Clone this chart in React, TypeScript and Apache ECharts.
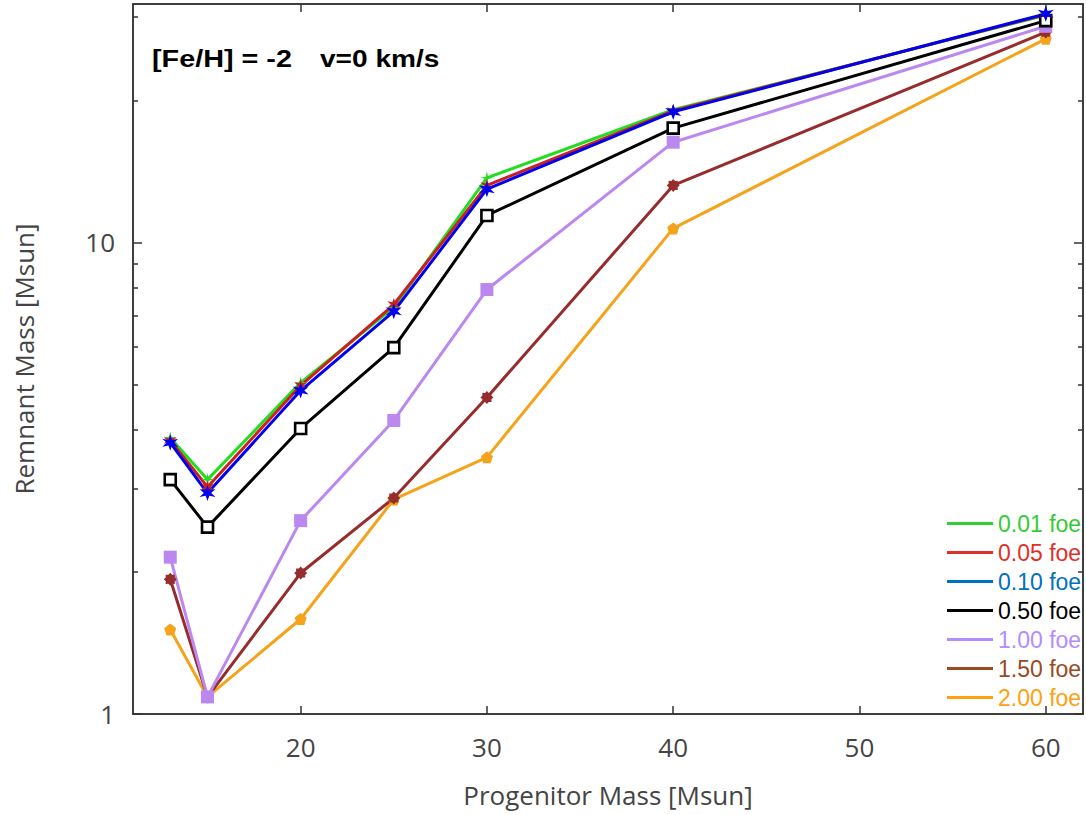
import React, { useEffect, useRef } from "react";
import * as echarts from "echarts";

const masses = [13, 15, 20, 25, 30, 40, 60];
const foe001 = [3.85, 3.14, 5.04, 7.28, 13.7, 19.1, 30.3];
const foe005 = [3.8, 3.03, 4.97, 7.38, 13.2, 19.0, 30.4];
const foe010 = [3.76, 2.94, 4.85, 7.14, 12.96, 18.9, 30.5];
const foe050 = [3.14, 2.49, 4.03, 5.98, 11.4, 17.46, 29.5];
const foe100 = [2.15, 1.087, 2.57, 4.19, 7.94, 16.3, 28.7];
const foe150 = [1.93, 1.087, 1.99, 2.87, 4.69, 13.2, 27.9];
const foe200 = [1.51, 1.087, 1.59, 2.85, 3.5, 10.7, 27.0];

const xTicks = [20, 30, 40, 50, 60];
const yMajorTicks = [1, 10];
const yMinorTicks = [2, 3, 4, 5, 6, 7, 8, 9, 20, 30];

const legendNames = ["0.01 foe", "0.05 foe", "0.10 foe", "0.50 foe", "1.00 foe", "1.50 foe", "2.00 foe"];
const legendColors = ["#33cc33", "#e0302a", "#0070c0", "#000000", "#b38cff", "#9a4a1c", "#ffa010"];

function starPath(n: number, ro: number, ri: number) {
  const pts: string[] = [];
  for (let i = 0; i < n * 2; i++) {
    const r = i % 2 === 0 ? ro : ri;
    const a = (Math.PI * i) / n - Math.PI / 2;
    pts.push((i === 0 ? "M" : "L") + (r * Math.cos(a)).toFixed(2) + "," + (r * Math.sin(a)).toFixed(2));
  }
  return "path://" + pts.join(" ") + " Z";
}

const asterisk = starPath(6, 10, 4);
const plusStar = starPath(4, 10, 2.5);
const star8 = starPath(8, 10, 7.5);
const pentagon = starPath(5, 10, 8.1);

const AX = "#333";

export default function App() {
  const ref = useRef<HTMLDivElement>(null);
  useEffect(() => {
    if (!ref.current) return;
    const chart = echarts.init(ref.current, undefined, { renderer: "svg" });
    const mk = (name: string, data: number[], color: string, symbol: string, size: number, extra: any = {}) => ({
      name,
      type: "line",
      data: masses.map((m, i) => [m, data[i]]),
      symbol,
      symbolSize: size,
      lineStyle: { color, width: 3 },
      itemStyle: { color, ...extra },
      xAxisIndex: 0,
      yAxisIndex: 0,
      z: 3,
    });
    const labelFont = { fontFamily: "Open Sans", fontSize: 26, color: "#444" };
    const option: any = {
      animation: false,
      backgroundColor: "#fff",
      grid: { left: 133, right: 3, top: 4, bottom: 101, show: true, borderColor: AX, borderWidth: 1.5, containLabel: false },
      graphic: [
        {
          type: "text",
          x: 152,
          y: 59,
          scaleX: 1.2,
          style: { text: "[Fe/H] = -2", fontFamily: "Liberation Sans", fontWeight: "bold", fontSize: 24, fill: "#000", verticalAlign: "middle", align: "left" },
        },
        {
          type: "text",
          x: 320,
          y: 59,
          scaleX: 1.17,
          style: { text: "v=0 km/s", fontFamily: "Liberation Sans", fontWeight: "bold", fontSize: 24, fill: "#000", verticalAlign: "middle", align: "left" },
        },
      ],
      legend: {
        orient: "vertical",
        left: 942,
        top: 507,
        itemWidth: 46,
        itemHeight: 3,
        itemGap: 6,
        icon: "rect",
        textStyle: { fontFamily: "Liberation Sans", fontSize: 23, lineHeight: 23, padding: [0, 0, 0, 0] },
        data: legendNames.map((n, i) => ({
          name: n,
          itemStyle: { color: legendColors[i], borderWidth: 0 },
          textStyle: { color: legendColors[i] },
        })),
      },
      xAxis: [
        {
          type: "value",
          min: 11,
          max: 62,
          position: "bottom",
          axisLine: { show: true, lineStyle: { color: AX, width: 1.5 } },
          axisTick: { show: true, inside: true, length: 8, customValues: xTicks, lineStyle: { color: AX, width: 1.5 } },
          axisLabel: { show: true, customValues: xTicks, margin: 20, ...labelFont },
          splitLine: { show: false },
          name: "Progenitor Mass [Msun]",
          nameLocation: "middle",
          nameGap: 68,
          nameTextStyle: labelFont,
        },
        {
          type: "value",
          min: 11,
          max: 62,
          position: "top",
          axisLine: { show: true, lineStyle: { color: AX, width: 1.5 } },
          axisTick: { show: true, inside: true, length: 8, customValues: xTicks, lineStyle: { color: AX, width: 1.5 } },
          axisLabel: { show: false },
          splitLine: { show: false },
        },
      ],
      yAxis: [
        {
          type: "log",
          logBase: 10,
          min: 1,
          max: 32,
          position: "left",
          axisLine: { show: true, lineStyle: { color: AX, width: 1.5 } },
          axisTick: { show: true, inside: true, length: 9, customValues: yMajorTicks, lineStyle: { color: AX, width: 1.5 } },
          axisLabel: { show: true, customValues: yMajorTicks, margin: 18, ...labelFont },
          splitLine: { show: false },
          name: "Remnant Mass [Msun]",
          nameLocation: "middle",
          nameGap: 96,
          nameTextStyle: labelFont,
        },
        {
          type: "log",
          logBase: 10,
          min: 1,
          max: 32,
          position: "left",
          axisLine: { show: false },
          axisTick: { show: true, inside: true, length: 5, customValues: yMinorTicks, lineStyle: { color: AX, width: 1.5 } },
          axisLabel: { show: false },
          splitLine: { show: false },
        },
        {
          type: "log",
          logBase: 10,
          min: 1,
          max: 32,
          position: "right",
          axisLine: { show: true, lineStyle: { color: AX, width: 1.5 } },
          axisTick: { show: true, inside: true, length: 9, customValues: yMajorTicks, lineStyle: { color: AX, width: 1.5 } },
          axisLabel: { show: false },
          splitLine: { show: false },
        },
        {
          type: "log",
          logBase: 10,
          min: 1,
          max: 32,
          position: "right",
          axisLine: { show: false },
          axisTick: { show: true, inside: true, length: 5, customValues: yMinorTicks, lineStyle: { color: AX, width: 1.5 } },
          axisLabel: { show: false },
          splitLine: { show: false },
        },
      ],
      series: [
        mk("2.00 foe", foe200, "#f5a31a", pentagon, 12),
        mk("1.50 foe", foe150, "#962c2c", star8, 13),
        mk("1.00 foe", foe100, "#bb88f0", "rect", 13),
        mk("0.50 foe", foe050, "#000000", "rect", 11, { color: "#fff", borderColor: "#000", borderWidth: 2.6 }),
        mk("0.01 foe", foe001, "#22dd22", plusStar, 13),
        mk("0.05 foe", foe005, "#cc2020", asterisk, 13),
        mk("0.10 foe", foe010, "#0000ee", asterisk, 16),
      ],
    };
    chart.setOption(option);
    return () => chart.dispose();
  }, []);
  return <div ref={ref} style={{ position: "absolute", left: 0, top: 0, width: 1086, height: 815 }} />;
}
